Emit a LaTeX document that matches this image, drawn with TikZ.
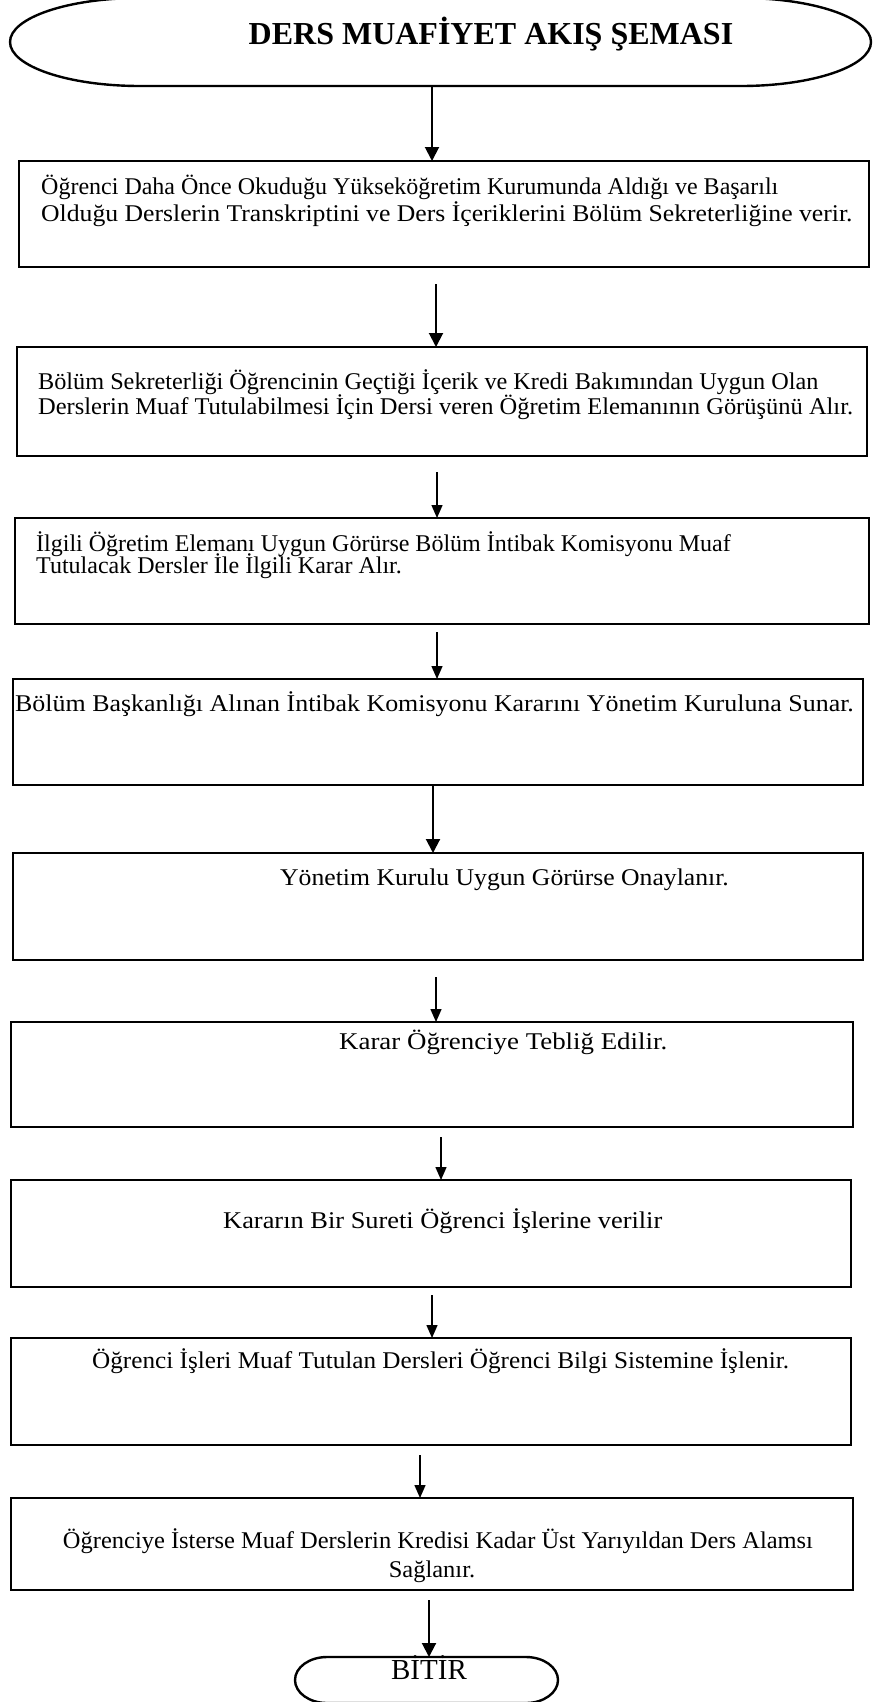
\documentclass[tikz,border=0pt]{standalone}
\usepackage{graphicx}
\usepackage{fontspec}
\setmainfont{Liberation Serif}
\usetikzlibrary{arrows.meta}
\newcommand{\hsx}[2]{\scalebox{#1}[1]{#2}}
\begin{document}
\begin{tikzpicture}[x=1pt,y=-1pt,
  box/.style={draw, line width=2.7pt, inner sep=0pt, outer sep=0pt},
  ghost/.style={inner sep=0pt, outer sep=0pt},
  txt/.style={inner sep=0pt, anchor=base west, font=\fontsize{24}{28}\selectfont},
  ctxt/.style={inner sep=0pt, anchor=base, font=\fontsize{24}{28}\selectfont},
  arrowA/.style={line width=2pt, -{Triangle[length=14pt,width=14pt]}},
  arrowB/.style={line width=1.4pt, -{Triangle[length=13pt,width=11pt]}},
  termline/.style={line width=2.4pt}]
\useasboundingbox (0,0) rectangle (873,1702);

% start terminator
\node[ghost, minimum width=861pt, minimum height=86pt] (start) at (440.5,43) {};
\draw[termline] (140,86) arc[start angle=90, end angle=270, x radius=130, y radius=44]
  -- (741,-2) arc[start angle=270, end angle=450, x radius=130, y radius=44] -- cycle;
\node[inner sep=0pt, anchor=base, font=\fontsize{32}{36}\selectfont\bfseries] (title) at (491,45) {DERS MUAFİYET AKIŞ ŞEMASI};

% boxes
\node[box, minimum width=850pt, minimum height=106pt] (b1) at (444,214) {};
\node[box, minimum width=850pt, minimum height=109pt] (b2) at (442,401.5) {};
\node[box, minimum width=854pt, minimum height=106pt] (b3) at (442,571) {};
\node[box, minimum width=850pt, minimum height=106pt] (b4) at (438,732) {};
\node[box, minimum width=850pt, minimum height=107pt] (b5) at (438,906.5) {};
\node[box, minimum width=842pt, minimum height=105pt] (b6) at (432,1074.5) {};
\node[box, minimum width=840pt, minimum height=107pt] (b7) at (431,1233.5) {};
\node[box, minimum width=840pt, minimum height=107pt] (b8) at (431,1391.5) {};
\node[box, minimum width=842pt, minimum height=92pt] (b9) at (432,1544) {};

% end terminator
\node[ghost, minimum width=263pt, minimum height=46pt] (end) at (426.5,1680) {};
\draw[termline] (327,1703) arc[start angle=90, end angle=270, x radius=32, y radius=23]
  -- (526,1657) arc[start angle=270, end angle=450, x radius=32, y radius=23] -- cycle;
\node[inner sep=0pt, anchor=base, font=\fontsize{29}{34}\selectfont] (endtxt) at (429,1679) {BİTİR};

% texts
\node[txt] (t1a) at (41,194) {Öğrenci Daha Önce Okuduğu Yükseköğretim Kurumunda Aldığı ve Başarılı};
\node[txt] (t1b) at (41,221) {\hsx{1.07}{Olduğu Derslerin Transkriptini ve Ders İçeriklerini Bölüm Sekreterliğine verir.}};
\node[txt] (t2a) at (38,389) {\hsx{1.01}{Bölüm Sekreterliği Öğrencinin Geçtiği İçerik ve Kredi Bakımından Uygun Olan}};
\node[txt] (t2b) at (38,414) {\hsx{1.02}{Derslerin Muaf Tutulabilmesi İçin Dersi veren Öğretim Elemanının Görüşünü Alır.}};
\node[txt] (t3a) at (36,551) {İlgili Öğretim Elemanı Uygun Görürse Bölüm İntibak Komisyonu Muaf};
\node[txt] (t3b) at (36,573) {Tutulacak Dersler İle İlgili Karar Alır.};
\node[txt] (t4) at (15,711) {\hsx{1.08}{Bölüm Başkanlığı Alınan İntibak Komisyonu Kararını Yönetim Kuruluna Sunar.}};
\node[txt] (t5) at (280,885) {\hsx{1.07}{Yönetim Kurulu Uygun Görürse Onaylanır.}};
\node[txt] (t6) at (339,1049) {\hsx{1.12}{Karar Öğrenciye Tebliğ Edilir.}};
\node[txt] (t7) at (223,1228) {\hsx{1.10}{Kararın Bir Sureti Öğrenci İşlerine verilir}};
\node[txt] (t8) at (92,1368) {\hsx{1.05}{Öğrenci İşleri Muaf Tutulan Dersleri Öğrenci Bilgi Sistemine İşlenir.}};
\node[ctxt] (t9a) at (438,1548) {\hsx{1.02}{Öğrenciye İsterse Muaf Derslerin Kredisi Kadar Üst Yarıyıldan Ders Alamsı}};
\node[ctxt] (t9b) at (432,1577) {\hsx{1.02}{Sağlanır.}};

% connectors
\draw[arrowA] ([xshift=-8.5pt]start.south) -- ([xshift=-12pt]b1.north);
\draw[arrowA] ([xshift=-8pt,yshift=-17pt]b1.south) -- ([xshift=-6pt]b2.north);
\draw[arrowB] ([xshift=-5pt,yshift=-16pt]b2.south) -- ([xshift=-5pt]b3.north);
\draw[arrowB] ([xshift=-5pt,yshift=-8pt]b3.south) -- ([xshift=-1pt]b4.north);
\draw[arrowA] ([xshift=-5pt]b4.south) -- ([xshift=-5pt]b5.north);
\draw[arrowB] ([xshift=-2pt,yshift=-17pt]b5.south) -- ([xshift=4pt]b6.north);
\draw[arrowB] ([xshift=9pt,yshift=-10pt]b6.south) -- ([xshift=10pt]b7.north);
\draw[arrowB] ([xshift=1pt,yshift=-8pt]b7.south) -- ([xshift=1pt]b8.north);
\draw[arrowB] ([xshift=-11pt,yshift=-10pt]b8.south) -- ([xshift=-12pt]b9.north);
\draw[arrowA] ([xshift=-3pt,yshift=-10pt]b9.south) -- ([xshift=2.5pt]end.north);
\end{tikzpicture}
\end{document}
